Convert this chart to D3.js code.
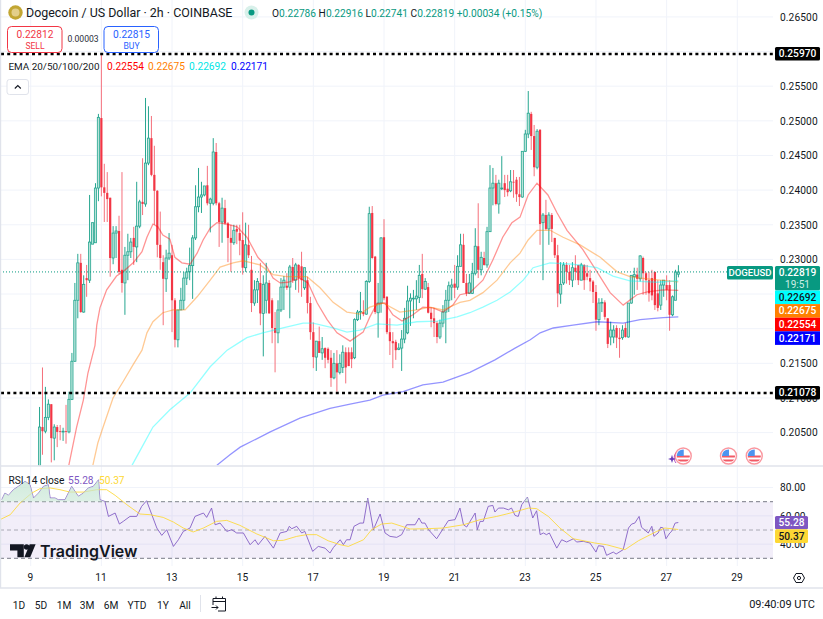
<!DOCTYPE html>
<html><head><meta charset="utf-8">
<script src="https://cdn.jsdelivr.net/npm/d3@7"></script>
<style>html,body{margin:0;padding:0;background:#fff;overflow:hidden}svg{display:block;font-family:Roboto,sans-serif}</style>
</head><body><svg id="c" width="823" height="619"></svg>
<script>
const opens=[.1996,.2058,.2052,.2072,.2091,.2042,.2058,.2052,.2051,.2052,.2051,.2098,.2153,.2241,.2295,.2224,.2273,.2270,.2322,.2324,.2403,.2504,.2404,.2396,.2389,.2302,.2338,.2341,.2285,.2266,.2306,.2311,.2331,.2318,.2348,.2383,.2380,.2439,.2475,.2422,.2399,.2321,.2296,.2272,.2302,.2306,.2241,.2184,.2227,.2241,.2273,.2282,.2291,.2331,.2376,.2390,.2393,.2407,.2381,.2381,.2455,.2381,.2354,.2374,.2352,.2331,.2324,.2344,.2338,.2328,.2288,.2321,.2285,.2237,.2256,.2266,.2222,.2241,.2266,.2241,.2201,.2194,.2227,.2260,.2262,.2260,.2289,.2270,.2292,.2290,.2259,.2270,.2237,.2195,.2159,.2182,.2165,.2172,.2171,.2158,.2129,.2150,.2137,.2144,.2166,.2166,.2166,.2158,.2213,.2224,.2224,.2221,.2268,.2367,.2304,.2223,.2237,.2332,.2246,.2195,.2182,.2181,.2170,.2172,.2185,.2194,.2240,.2243,.2243,.2245,.2279,.2257,.2260,.2223,.2215,.2208,.2188,.2208,.2224,.2241,.2260,.2265,.2260,.2290,.2321,.2266,.2251,.2251,.2280,.2319,.2285,.2302,.2292,.2340,.2403,.2410,.2380,.2402,.2410,.2402,.2399,.2412,.2415,.2394,.2390,.2456,.2481,.2510,.2478,.2433,.2487,.2353,.2364,.2344,.2364,.2331,.2306,.2250,.2266,.2292,.2282,.2270,.2288,.2292,.2270,.2292,.2280,.2273,.2268,.2253,.2213,.2237,.2238,.2215,.2188,.2188,.2201,.2187,.2187,.2201,.2188,.2237,.2275,.2278,.2272,.2302,.2280,.2270,.2273,.2282,.2251,.2234,.2263,.2263,.2263,.2220,.2241,.22786];
const highs=[.2087,.2144,.2116,.2098,.2091,.2062,.2061,.2061,.2057,.2090,.2109,.2165,.2266,.2308,.2308,.2277,.2292,.2393,.2353,.2410,.2510,.2596,.2438,.2426,.2389,.2348,.2348,.2363,.2426,.2318,.2337,.2331,.2347,.2412,.2386,.2446,.2533,.2521,.2507,.2464,.2400,.2369,.2306,.2314,.2338,.2321,.2244,.2227,.2259,.2282,.2288,.2317,.2335,.2407,.2432,.2412,.2406,.2435,.2389,.2475,.2468,.2383,.2389,.2386,.2354,.2350,.2350,.2350,.2350,.2368,.2353,.2350,.2305,.2270,.2273,.2295,.2277,.2295,.2270,.2244,.2224,.2241,.2273,.2276,.2280,.2292,.2302,.2295,.2293,.2311,.2288,.2275,.2246,.2209,.2182,.2203,.2188,.2173,.2173,.2169,.2165,.2169,.2163,.2176,.2173,.2173,.2173,.2215,.2227,.2253,.2241,.2270,.2376,.2377,.2305,.2266,.2332,.2358,.2247,.2215,.2195,.2184,.2179,.2198,.2230,.2262,.2251,.2256,.2270,.2292,.2308,.2273,.2266,.2231,.2230,.2211,.2213,.2234,.2256,.2268,.2272,.2292,.2306,.2337,.2337,.2279,.2279,.2295,.2345,.2381,.2311,.2311,.2347,.2436,.2432,.2422,.2415,.2449,.2422,.2422,.2429,.2429,.2419,.2419,.2456,.2487,.2543,.2513,.2494,.2488,.2488,.2367,.2386,.2368,.2367,.2331,.2321,.2296,.2296,.2296,.2292,.2296,.2306,.2292,.2295,.2293,.2292,.2285,.2270,.2263,.2244,.2244,.2241,.2215,.2210,.2205,.2205,.2201,.2205,.2208,.2237,.2277,.2288,.2288,.2306,.2304,.2282,.2282,.2285,.2282,.2270,.2270,.2270,.2277,.2270,.2248,.2285,.22916];
const lows=[.1989,.2018,.2049,.2068,.2007,.2010,.2029,.2039,.2038,.2034,.2049,.2097,.2152,.2215,.2223,.2223,.2246,.2266,.2322,.2324,.2384,.2391,.2354,.2354,.2275,.2293,.2302,.2279,.2252,.2220,.2270,.2302,.2292,.2296,.2345,.2364,.2376,.2436,.2420,.2350,.2303,.2285,.2205,.2253,.2299,.2195,.2173,.2173,.2227,.2227,.2263,.2270,.2243,.2328,.2368,.2367,.2391,.2378,.2339,.2378,.2378,.2318,.2324,.2350,.2296,.2282,.2321,.2322,.2306,.2278,.2282,.2302,.2224,.2233,.2237,.2205,.2160,.2222,.2222,.2179,.2137,.2179,.2224,.2227,.2256,.2215,.2266,.2256,.2252,.2246,.2256,.2222,.2184,.2143,.2139,.2165,.2155,.2143,.2150,.2116,.2127,.2109,.2134,.2136,.2121,.2146,.2143,.2156,.2211,.2213,.2218,.2220,.2266,.2301,.2221,.2187,.2223,.2241,.2192,.2162,.2143,.2155,.2169,.2139,.2179,.2192,.2204,.2215,.2227,.2237,.2244,.2256,.2222,.2202,.2188,.2179,.2185,.2202,.2179,.2224,.2241,.2244,.2256,.2290,.2266,.2247,.2250,.2250,.2277,.2273,.2277,.2291,.2288,.2340,.2378,.2378,.2366,.2400,.2390,.2391,.2397,.2389,.2383,.2377,.2389,.2455,.2475,.2458,.2420,.2430,.2321,.2270,.2342,.2321,.2325,.2302,.2231,.2236,.2263,.2265,.2263,.2260,.2270,.2263,.2270,.2256,.2270,.2254,.2237,.2197,.2205,.2224,.2213,.2172,.2176,.2179,.2172,.2158,.2184,.2187,.2187,.2236,.2249,.2256,.2268,.2249,.2249,.2239,.2241,.2227,.2225,.2227,.2246,.2241,.2197,.2218,.2241,.22741];
const closes=[.2058,.2052,.2072,.2091,.2042,.2058,.2051,.2051,.2052,.2051,.2098,.2153,.2241,.2295,.2224,.2264,.2270,.2325,.2353,.2403,.2505,.2404,.2396,.2387,.2302,.2338,.2341,.2282,.2266,.2306,.2311,.2325,.2318,.2348,.2383,.2380,.2439,.2475,.2422,.2399,.2321,.2302,.2272,.2302,.2309,.2241,.2184,.2227,.2241,.2273,.2282,.2291,.2331,.2376,.2390,.2393,.2406,.2381,.2387,.2455,.2381,.2354,.2374,.2352,.2331,.2324,.2342,.2340,.2327,.2288,.2321,.2306,.2237,.2256,.2268,.2222,.2264,.2266,.2222,.2201,.2194,.2227,.2260,.2270,.2259,.2289,.2270,.2292,.2273,.2270,.2288,.2237,.2195,.2159,.2182,.2165,.2171,.2158,.2155,.2129,.2150,.2137,.2150,.2166,.2144,.2146,.2156,.2213,.2224,.2225,.2221,.2268,.2366,.2302,.2224,.2237,.2331,.2244,.2195,.2182,.2179,.2169,.2172,.2185,.2215,.2240,.2244,.2244,.2247,.2277,.2257,.2268,.2223,.2214,.2208,.2188,.2208,.2224,.2241,.2262,.2263,.2259,.2290,.2321,.2266,.2251,.2266,.2280,.2319,.2285,.2303,.2292,.2340,.2403,.2410,.2380,.2410,.2403,.2400,.2397,.2412,.2411,.2394,.2390,.2456,.2481,.2511,.2478,.2433,.2485,.2351,.2364,.2344,.2364,.2344,.2306,.2251,.2264,.2292,.2282,.2270,.2288,.2282,.2270,.2292,.2270,.2275,.2268,.2253,.2213,.2237,.2238,.2217,.2178,.2198,.2198,.2187,.2185,.2198,.2188,.2237,.2277,.2278,.2272,.2305,.2280,.2270,.2251,.2248,.2234,.2230,.2263,.2270,.2256,.2220,.2246,.2282,.22819];
const firstCandleDay=9.25, candlesPerDay=12;

const ema20Days=[10.08,10.30,10.49,10.62,10.82,10.87,10.96,11.15,11.43,11.61,11.90,12.15,12.29,12.46,12.60,12.74,12.94,13.08,13.28,13.51,13.71,13.88,14.08,14.27,14.56,14.84,15.12,15.43,15.69,15.86,16.06,16.28,16.62,16.85,17.11,17.39,17.67,18.04,18.41,18.60,18.80,19.03,19.25,19.51,19.82,20.10,20.39,20.67,20.95,21.15,21.43,21.80,22.08,22.36,22.62,22.85,23.08,23.33,23.64,23.90,24.18,24.63,25.03,25.40,25.77,26.16,26.45,26.90,27.33];
const ema20Values=[.2003,.2058,.2097,.2136,.2176,.2205,.2230,.2256,.2276,.2282,.2295,.2311,.2332,.2351,.2347,.2335,.2329,.2303,.2295,.2293,.2309,.2328,.2345,.2353,.2351,.2347,.2332,.2303,.2289,.2273,.2266,.2267,.2273,.2266,.2237,.2213,.2194,.2182,.2195,.2217,.2236,.2237,.2220,.2211,.2220,.2231,.2230,.2224,.2234,.2249,.2252,.2270,.2299,.2332,.2353,.2361,.2393,.2410,.2393,.2367,.2342,.2314,.2282,.2252,.2234,.2249,.2253,.2256,.22554];
const ema50Days=[10.76,10.90,11.05,11.33,11.61,11.90,12.15,12.29,12.46,12.74,13.03,13.37,13.71,14.08,14.36,14.73,15.01,15.49,15.86,16.25,16.82,17.19,17.56,17.95,18.32,18.60,18.97,19.45,19.93,20.30,20.67,21.15,21.43,21.80,22.20,22.57,22.85,23.08,23.33,23.70,24.07,24.55,25.12,25.60,25.96,26.45,27.33];
const ema50Values=[.2003,.2035,.2058,.2100,.2123,.2148,.2169,.2194,.2210,.2223,.2227,.2227,.2246,.2270,.2289,.2295,.2298,.2292,.2278,.2275,.2275,.2259,.2238,.2224,.2221,.2231,.2237,.2224,.2227,.2231,.2227,.2238,.2241,.2252,.2270,.2295,.2309,.2328,.2342,.2342,.2332,.2321,.2303,.2282,.2275,.2272,.22675];
const ema100Days=[11.87,12.18,12.46,12.94,13.51,14.08,14.56,14.93,15.12,15.57,16.14,16.71,16.99,17.56,17.95,18.32,18.80,19.37,19.93,20.50,21.07,21.43,21.80,22.20,22.57,22.94,23.22,23.70,24.35,25.03,25.48,25.96,26.73,27.33];
const ema100Values=[.2003,.2032,.2058,.2083,.2107,.2145,.2169,.2181,.2187,.2194,.2201,.2208,.2208,.2201,.2195,.2198,.2207,.2205,.2210,.2211,.2217,.2223,.2231,.2241,.2253,.2270,.2288,.2295,.2293,.2288,.2276,.2269,.2267,.22692];
const ema200Days=[14.27,14.64,14.93,15.78,16.62,17.47,18.04,18.60,18.97,19.54,20.10,20.67,21.43,22.14,22.71,23.14,23.42,23.79,24.35,25.03,25.77,26.25,26.90,27.33];
const ema200Values=[.2003,.2018,.2029,.2051,.2071,.2085,.2091,.2097,.2104,.2109,.2119,.2123,.2137,.2155,.2172,.2184,.2194,.2201,.2205,.2210,.2208,.2213,.2216,.22171];

const rsiDays=[8.18,8.27,8.37,8.51,8.65,8.84,8.98,9.08,9.22,9.36,9.50,9.55,9.69,9.78,9.97,10.16,10.35,10.49,10.63,10.77,10.92,10.96,11.10,11.20,11.39,11.51,11.62,11.81,12.00,12.14,12.28,12.57,12.71,12.85,13.04,13.18,13.32,13.51,13.65,13.89,13.98,14.12,14.22,14.36,14.55,14.69,14.83,15.02,15.21,15.35,15.44,15.63,15.87,16.06,16.25,16.32,16.39,16.53,16.67,16.76,16.98,17.14,17.33,17.47,17.57,17.76,17.85,17.94,18.04,18.15,18.32,18.42,18.54,18.70,18.89,19.03,19.17,19.36,19.50,19.64,19.88,19.99,20.07,20.16,20.26,20.49,20.82,21.01,21.15,21.25,21.34,21.58,21.64,21.72,21.81,21.95,22.08,22.14,22.24,22.38,22.52,22.61,22.71,22.80,22.90,23.06,23.21,23.32,23.42,23.51,23.60,23.68,23.89,24.03,24.17,24.36,24.45,24.64,24.83,25.00,25.07,25.21,25.30,25.49,25.57,25.77,25.92,26.01,26.10,26.22,26.29,26.48,26.58,26.64,26.76,26.83,26.91,26.98,27.09,27.14,27.24,27.33];
const rsiValues=[71.4,76.1,74.5,78.5,80.8,84.4,82.0,72.6,76.1,80.8,82.0,72.6,72.6,71.4,71.4,80.8,73.8,76.1,79.7,80.8,85.5,71.4,70.2,59.6,62.0,54.2,56.1,59.6,59.6,66.7,70.7,51.4,46.2,50.2,38.4,43.1,49.0,51.4,59.6,62.0,58.9,65.5,53.7,54.9,49.0,50.2,47.9,47.9,39.6,43.1,39.6,45.5,37.2,47.9,49.0,52.6,50.9,52.6,47.9,49.0,34.9,38.4,37.2,33.7,37.7,43.1,39.6,43.1,43.1,52.6,54.9,54.9,72.6,50.2,61.3,47.9,45.5,44.8,46.7,53.7,53.7,58.5,54.9,54.9,50.2,43.8,56.6,57.3,65.5,53.7,52.1,62.0,50.2,56.1,56.1,66.7,67.4,62.7,65.5,65.5,64.3,65.5,60.3,59.6,67.9,73.3,58.5,63.6,46.7,47.9,46.7,47.9,37.2,43.1,41.5,43.8,41.5,42.0,40.8,34.4,38.9,38.4,32.1,34.4,33.0,36.1,51.4,54.2,54.9,59.6,51.9,47.9,52.6,45.5,47.9,51.9,51.4,43.8,47.9,49.0,54.9,55.28];
const rsiMaDays=[8.13,8.42,8.70,9.03,9.26,9.55,9.83,10.11,10.49,10.87,11.15,11.39,11.72,12.09,12.38,12.75,13.04,13.32,13.60,13.89,14.26,14.55,14.92,15.40,15.87,16.15,16.53,16.81,17.09,17.42,17.76,17.99,18.42,18.65,18.93,19.22,19.74,20.21,20.68,21.25,21.72,22.19,22.47,22.76,23.09,23.32,23.65,23.98,24.36,24.97,25.30,25.82,26.20,26.72,26.95,27.33];
const rsiMaValues=[57.3,60.8,69.1,76.1,79.2,79.7,78.5,76.8,76.8,78.5,78.5,74.5,67.9,61.3,60.8,58.9,55.6,51.4,48.6,51.4,56.1,56.8,53.3,47.2,42.4,42.7,45.5,46.7,46.7,42.4,39.6,38.4,43.1,50.2,54.2,54.9,50.7,50.9,51.4,53.7,57.3,59.6,61.3,63.2,65.5,65.1,59.6,51.4,43.8,40.8,39.6,36.1,42.4,49.0,51.4,50.37];

const priceTicks=[.265,.26,.255,.25,.245,.24,.235,.23,.225,.22,.215,.21,.205];
const priceLabelTicks=[.265,.255,.25,.245,.24,.235,.23,.215,.21,.205];
const dayTicks=[9,11,13,15,17,19,21,23,25,27,29];
const rsiTicks=[80,60,40];
const rsiBands=[70,50,30];
const lastPrice=.22819, resistance=.2597, support=.21078;
const emaLabels=[["0.22692","#00ffff","#131722"],["0.22675","#ff8000","#fff"],["0.22554","#ff0000","#fff"],["0.22171","#0000ff","#fff"]];
const ranges=["1D","5D","1M","3M","6M","YTD","1Y","All"];
const rangeCenters=[19,41,64,87,111,137,163,185];
const eventDays=[27.47,28.75,29.48];

const svg=d3.select("#c");
const X=d3.scaleLinear().domain([9,29]).range([30.7,737.3]);
const Y=d3.scaleLinear().domain([.205,.265]).range([432.6,16.9]);
const R=d3.scaleLinear().domain([30,70]).range([558.3,501.7]);
const TEAL="#089981",RED="#f23645",GRID="#f0f3fa",SEP="#e0e3eb",TXT="#131722";
const defs=svg.append("defs");
defs.append("clipPath").attr("id","pane").append("rect").attr("x",0).attr("y",0).attr("width",773).attr("height",465.5);
defs.append("clipPath").attr("id","rpane").append("rect").attr("x",0).attr("y",467).attr("width",773).attr("height",100);
defs.append("clipPath").attr("id","over").append("rect").attr("x",0).attr("y",467).attr("width",773).attr("height",R(70)-467);
const g0=defs.append("linearGradient").attr("id","ob").attr("x1",0).attr("x2",0).attr("y1",0).attr("y2",1);
g0.append("stop").attr("offset",0).attr("stop-color","#c6e6d4").attr("stop-opacity",.8);
g0.append("stop").attr("offset",1).attr("stop-color","#c6e6d4").attr("stop-opacity",.12);

// grid
const grid=svg.append("g").attr("stroke",GRID).attr("stroke-width",1);
grid.selectAll(".v").data(dayTicks).join("line").attr("x1",d=>X(d)).attr("x2",d=>X(d)).attr("y1",0).attr("y2",566);
grid.selectAll(".h").data(priceTicks).join("line").attr("x1",0).attr("x2",773).attr("y1",d=>Y(d)).attr("y2",d=>Y(d));
grid.selectAll(".r").data(rsiTicks).join("line").attr("x1",0).attr("x2",773).attr("y1",d=>R(d)).attr("y2",d=>R(d));

// candles
const pane=svg.append("g").attr("clip-path","url(#pane)");
const idx=d3.range(closes.length);
const cx=i=>X(firstCandleDay+i/candlesPerDay);
const up=i=>closes[i]>=opens[i];
pane.append("g").selectAll("line").data(idx).join("line")
 .attr("x1",cx).attr("x2",cx).attr("y1",i=>Y(highs[i])).attr("y2",i=>Y(lows[i]))
 .attr("stroke",i=>up(i)?"#26a690":"#f5707b").attr("stroke-width",1);
pane.append("g").selectAll("rect").data(idx).join("rect")
 .attr("x",i=>cx(i)-1.1).attr("width",2.2)
 .attr("y",i=>Y(Math.max(opens[i],closes[i])))
 .attr("height",i=>Math.max(.8,Math.abs(Y(opens[i])-Y(closes[i]))))
 .attr("fill",i=>up(i)?"#b8e4da":RED)
 .attr("stroke",i=>up(i)?"#26a690":"none").attr("stroke-width",.8);

// EMA
const emaLine=d3.line().x(d=>X(d[0])).y(d=>Y(d[1]));
[[ema20Days,ema20Values,"#ff0000"],[ema50Days,ema50Values,"#ff8000"],[ema100Days,ema100Values,"#00ffff"],[ema200Days,ema200Values,"#0000ff"]].forEach(([a,b,c])=>{
 pane.append("path").attr("d",emaLine(d3.zip(a,b))).attr("fill","none").attr("stroke",c).attr("stroke-opacity",.42).attr("stroke-width",1.3);
});

// level lines
svg.append("line").attr("x1",0).attr("x2",727).attr("y1",Y(lastPrice)).attr("y2",Y(lastPrice)).attr("stroke",TEAL).attr("stroke-width",1).attr("stroke-dasharray","1 2");
[resistance,support].forEach(v=>svg.append("line").attr("x1",1).attr("x2",775).attr("y1",Y(v)+.4).attr("y2",Y(v)+.4).attr("stroke","#000").attr("stroke-width",2.6).attr("stroke-dasharray","3 3.2"));

// price axis
const pa=svg.append("g").attr("transform","translate(778,0)").call(d3.axisRight(Y).tickValues(priceLabelTicks).tickSize(0).tickPadding(2).tickFormat(d3.format(".5f")));
pa.select(".domain").remove();
pa.selectAll("text").attr("font-family","Roboto").attr("font-size",10.2).attr("fill",TXT).attr("letter-spacing",.1);

// time axis
const ta=svg.append("g").attr("transform","translate(-0.8,573.5)").call(d3.axisBottom(X).tickValues(dayTicks).tickSize(0).tickPadding(0).tickFormat(d3.format("d")));
ta.select(".domain").remove();
ta.selectAll("text").attr("font-family","Roboto").attr("font-size",10.2).attr("fill",TXT);

// rsi
const rp=svg.append("g").attr("clip-path","url(#rpane)");
rp.append("rect").attr("x",0).attr("width",773).attr("y",R(70)).attr("height",R(30)-R(70)).attr("fill","#7e57c2").attr("fill-opacity",.1);
const rsiPts=d3.zip(rsiDays,rsiValues);
const oa=d3.area().x(d=>X(d[0])).y0(R(70)).y1(d=>R(d[1]));
svg.append("path").attr("clip-path","url(#over)").attr("d",oa(rsiPts)).attr("fill","url(#ob)");
rsiBands.forEach((b,k)=>rp.append("line").attr("x1",0).attr("x2",773).attr("y1",R(b)).attr("y2",R(b)).attr("stroke","#787b86").attr("stroke-opacity",k==1?.6:1).attr("stroke-width",1).attr("stroke-dasharray","4 3"));

// watermark
const wm=svg.append("g").attr("fill","#131722");
wm.append("path").attr("d","M10 544.2H23.8V557.2H17.4V550.4H10Z");
wm.append("circle").attr("cx",26.6).attr("cy",547).attr("r",2.8);
wm.append("path").attr("d","M29.7 544.2H35.6L30.2 557.2H24.4Z");
wm.append("text").attr("x",40).attr("y",557).attr("font-family","Inter").attr("font-weight",600).attr("font-size",16).text("TradingView");

const rline=d3.line().x(d=>X(d[0])).y(d=>R(d[1]));
rp.append("path").attr("d",rline(rsiPts)).attr("fill","none").attr("stroke","#7e57c2").attr("stroke-opacity",.85).attr("stroke-width",1);
rp.append("path").attr("d",rline(d3.zip(rsiMaDays,rsiMaValues))).attr("fill","none").attr("stroke","#fdd835").attr("stroke-opacity",.85).attr("stroke-width",1);

const ra=svg.append("g").attr("transform","translate(778,0)").call(d3.axisRight(R).tickValues(rsiTicks).tickSize(0).tickPadding(2).tickFormat(d3.format(".2f")));
ra.select(".domain").remove();
ra.selectAll("text").attr("font-family","Roboto").attr("font-size",10.2).attr("fill",TXT);

// separators
[[0,466,823,466],[0,588,823,588],[0.5,0,0.5,588]].forEach(l=>svg.append("line").attr("x1",l[0]).attr("y1",l[1]).attr("x2",l[2]).attr("y2",l[3]).attr("stroke",SEP).attr("stroke-width",1.4));

function txt(x,y,s,o={}){return svg.append("text").attr("x",x).attr("y",y).attr("font-size",o.fs||10).attr("fill",o.c||TXT).attr("text-anchor",o.a||"start").attr("font-family",o.f||"Roboto").attr("font-weight",o.w||400).text(s);}
function box(x,y,w,h,fill,r=0){return svg.append("rect").attr("x",x).attr("y",y).attr("width",w).attr("height",h).attr("fill",fill).attr("rx",r);}

// price labels
[[Y(resistance),"0.25970"],[Y(support),"0.21078"]].forEach(([y,s])=>{box(775,y-6.5,45,13.5,"#000",1.5);txt(797.5,y+3.8,s,{c:"#fff",a:"middle",fs:10.2,w:500});});
box(727,266,46,13.5,TEAL,1.5);txt(750,276.2,"DOGEUSD",{c:"#fff",a:"middle",fs:9.6,w:500});
box(775,266,45,24.5,TEAL,1.5);txt(797.5,276,"0.22819",{c:"#fff",a:"middle",fs:10.2,w:500});txt(797.5,287.5,"19:51",{c:"#cdeee6",a:"middle",fs:10});
emaLabels.forEach((e,k)=>{const y=290.5+k*13.6;box(775,y,45,13.6,e[1]);txt(797.5,y+10.2,e[0],{c:e[2],a:"middle",fs:10.2,w:500});});
box(775,516,33,13.3,"#7e57c2",1.5);txt(791.5,526.3,"55.28",{c:"#fff",a:"middle",fs:10.2,w:500});
box(775,529.3,33,13.7,"#fdd835",1.5);txt(791.5,539.8,"50.37",{c:TXT,a:"middle",fs:10.2,w:500});

// header
svg.append("circle").attr("cx",15.5).attr("cy",12.5).attr("r",7.2).attr("fill","#c2a633");
svg.append("circle").attr("cx",15.5).attr("cy",12.5).attr("r",4).attr("fill","#e3cf8a");
txt(26,17,"Dogecoin / US Dollar · 2h · COINBASE",{fs:12.45});
svg.append("circle").attr("cx",251.5).attr("cy",12.5).attr("r",7).attr("fill","#d8f0ea");
svg.append("circle").attr("cx",251.5).attr("cy",12.5).attr("r",3).attr("fill",TEAL);
const ohlc=svg.append("text").attr("x",272).attr("y",16.6).attr("font-size",10.2).attr("fill",TEAL);
[["O",TXT],["0.22786 ",TEAL],["H",TXT],["0.22916 ",TEAL],["L",TXT],["0.22741 ",TEAL],["C",TXT],["0.22819 ",TEAL],["+0.00034 (+0.15%)",TEAL]].forEach(([s,c])=>ohlc.append("tspan").attr("fill",c).text(s));
[[7,"#f23645","0.22812","SELL"],[103.5,"#2962ff","0.22815","BUY"]].forEach(([x,c,a,b])=>{
 svg.append("rect").attr("x",x+.5).attr("y",26.5).attr("width",54.5).attr("height",26).attr("rx",4).attr("fill","#fff").attr("stroke",c);
 txt(x+28,37.5,a,{c,a:"middle",fs:10.2});txt(x+28,48.5,b,{c,a:"middle",fs:8.6});
});
txt(83,42,"0.00003",{a:"middle",fs:8.6,c:"#2a2e39"});
txt(8.5,70,"EMA 20/50/100/200",{fs:9.9});
[[107,"0.22554","#ff0000"],[148,"0.22675","#ff8000"],[189,"0.22692","#00e5e5"],[231,"0.22171","#0000ff"]].forEach(([x,s,c])=>txt(x,70,s,{c,fs:10.2}));
svg.append("rect").attr("x",7).attr("y",79.5).attr("width",21.5).attr("height",15).attr("rx",2.5).attr("fill","#fff").attr("stroke",SEP);
svg.append("path").attr("d","M14.8 88.5L17.8 85.5L20.8 88.5").attr("fill","none").attr("stroke","#131722").attr("stroke-width",1.1);

// rsi legend
txt(8.5,483.5,"RSI 14 close",{fs:10.2});txt(68,483.5,"55.28",{fs:10.2,c:"#7e57c2"});txt(99,483.5,"50.37",{fs:10.2,c:"#fdd835"});

// events
svg.append("path").attr("d","M679 450.6A8 8 0 0 0 676 463").attr("fill","none").attr("stroke","#9c27b0").attr("stroke-opacity",.8).attr("stroke-width",1);
svg.append("path").attr("d","M672 454.8L673 458L676 459L673 460L672 463L671 460L668 459L671 458Z").attr("fill","#673ab7");
defs.append("clipPath").attr("id","flag").append("circle").attr("r",6.6);
eventDays.forEach(d=>{
 const g=svg.append("g").attr("transform",`translate(${X(d)},456)`);
 g.append("circle").attr("r",8).attr("fill","#fff").attr("stroke","#f7525f").attr("stroke-opacity",.6).attr("stroke-width",1.4);
 const f=g.append("g").attr("clip-path","url(#flag)");
 f.append("rect").attr("x",-7).attr("y",-7).attr("width",14).attr("height",14).attr("fill","#fff");
 f.append("rect").attr("x",-7).attr("y",-.5).attr("width",14).attr("height",2).attr("fill","#f25a66");
 f.append("rect").attr("x",-7).attr("y",3.5).attr("width",14).attr("height",2).attr("fill","#f25a66");
 f.append("rect").attr("x",-7).attr("y",-7).attr("width",7.5).attr("height",7).attr("fill","#4d94f0");
});

// bottom bar
ranges.forEach((s,k)=>txt(rangeCenters[k],609,s,{a:"middle",fs:10.2}));
svg.append("line").attr("x1",200.5).attr("x2",200.5).attr("y1",595).attr("y2",612).attr("stroke",SEP);
svg.append("path").attr("d","M213 605V598.5H225.5V611H218M213 601.5H225.5M216 596.5V599M222.5 596.5V599M211.5 607.5H218M216 605.5L218 607.5L216 609.5").attr("fill","none").attr("stroke","#131722").attr("stroke-width",1);
txt(815,608,"09:40:09 UTC",{a:"end",fs:11});
// settings icon
svg.append("path").attr("d","M793.5 578L796 573.5H802L804.5 578L802 582.5H796Z").attr("fill","none").attr("stroke","#131722").attr("stroke-width",1);
svg.append("circle").attr("cx",799).attr("cy",578).attr("r",1.6).attr("fill","none").attr("stroke","#131722").attr("stroke-width",1);
</script></body></html>
